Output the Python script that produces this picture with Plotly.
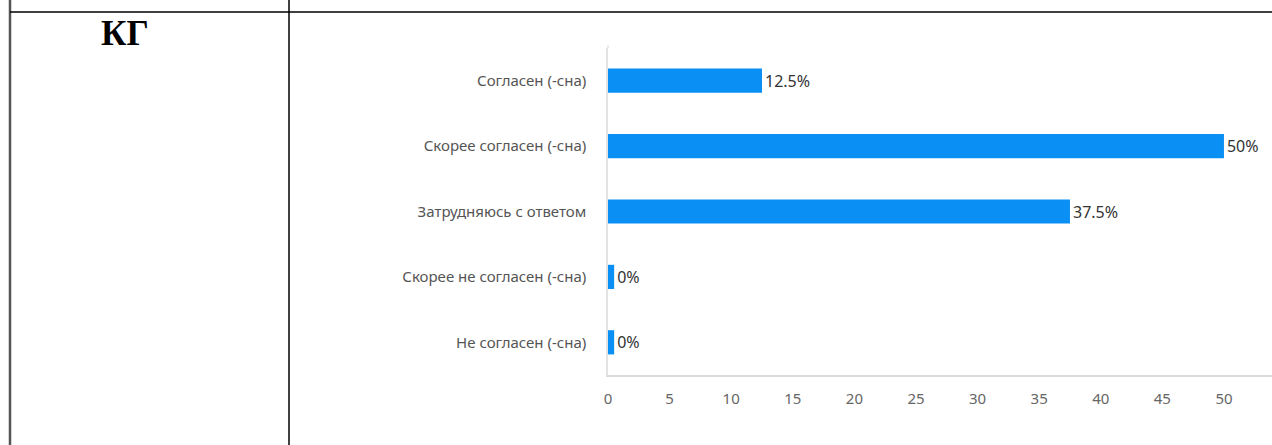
import plotly.graph_objects as go

# Survey answers and shares (percent)
categories = [
    "Согласен (-сна)",
    "Скорее согласен (-сна)",
    "Затрудняюсь с ответом",
    "Скорее не согласен (-сна)",
    "Не согласен (-сна)",
]
shares = [12.5, 50, 37.5, 0, 0]
value_labels = ["12.5%", "50%", "37.5%", "0%", "0%"]
x_ticks = [0, 5, 10, 15, 20, 25, 30, 35, 40, 45, 50]
group_label = "КГ"

W, H = 1272, 445
ML, MR, MT, MB = 608, 0, 48, 70
PW, PH = W - ML - MR, H - MT - MB
X_MAX = 53.9
STUB = 0.5  # minimum drawn length so empty answers stay visible

BAR_COLOR = "#0a8ff5"
FONT = "Noto Sans"


def px_x(p):
    return (p - ML) / PW


def px_y(p):
    return (H - MB - p) / PH


bar_len = [v if v > 0 else STUB for v in shares]

fig = go.Figure(
    go.Bar(
        x=bar_len,
        y=categories,
        orientation="h",
        marker=dict(color=BAR_COLOR, line=dict(width=0)),
        width=0.37,
        text=value_labels,
        textposition="outside",
        textfont=dict(family=FONT, size=16, color="#333333"),
        cliponaxis=False,
        hoverinfo="skip",
    )
)

# table frame around the chart cell
frame = [
    (px_x(10), px_y(0), px_x(10), px_y(H), "#555555", 2.5),
    (px_x(289), px_y(0), px_x(289), px_y(H), "#000000", 1.5),
    (px_x(10), px_y(12), px_x(W), px_y(12), "#000000", 1.5),
    (px_x(608), px_y(45), px_x(608), px_y(48), "#e3e3e3", 1.5),
]
shapes = [
    dict(type="line", xref="paper", yref="paper", x0=a, y0=b, x1=c, y1=d,
         line=dict(color=col, width=w), layer="above")
    for a, b, c, d, col, w in frame
]

fig.update_layout(
    width=W,
    height=H,
    margin=dict(l=ML, r=MR, t=MT, b=MB, pad=0),
    paper_bgcolor="white",
    plot_bgcolor="white",
    showlegend=False,
    bargap=0.63,
    shapes=shapes,
    annotations=[
        dict(
            text="<b>" + group_label + "</b>",
            xref="paper", yref="paper",
            x=px_x(125), y=px_y(34),
            xanchor="center", yanchor="middle",
            showarrow=False,
            font=dict(family="Liberation Serif", size=35, color="#000000"),
        )
    ],
    xaxis=dict(
        range=[0, X_MAX],
        tickvals=x_ticks,
        ticktext=[str(t) for t in x_ticks],
        showgrid=False,
        zeroline=False,
        showline=True,
        linecolor="#dcdcdc",
        linewidth=1.5,
        ticks="",
        ticklabelstandoff=9,
        tickfont=dict(family=FONT, size=15, color="#666666"),
        fixedrange=True,
    ),
    yaxis=dict(
        categoryorder="array",
        categoryarray=categories[::-1],
        showgrid=False,
        zeroline=False,
        showline=True,
        linecolor="#e3e3e3",
        linewidth=1.5,
        ticks="",
        ticklabelstandoff=17,
        tickfont=dict(family=FONT, size=15, color="#555555"),
        fixedrange=True,
    ),
)

fig.write_html("out.html")
